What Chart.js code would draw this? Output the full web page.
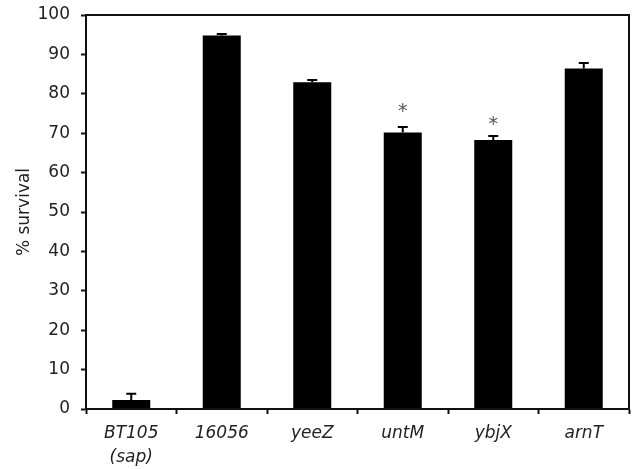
<!DOCTYPE html>
<html>
<head>
<meta charset="utf-8">
<script src="https://cdn.jsdelivr.net/npm/chart.js@4"></script>
<style>
    html, body { margin: 0; padding: 0; background: #fff; }
    #wrap { width: 632px; height: 469px; }
</style>
</head>
<body>
<div id="wrap"><canvas id="survivalChart" width="632" height="469"></canvas></div>
<script>
// Données
const strains = [["BT105", "(sap)"], "16056", "yeeZ", "untM", "ybjX", "arnT"];
const survival = [2.3, 94.8, 82.9, 70.2, 68.3, 86.4];
const errors = [1.6, 0.4, 0.6, 1.4, 1.0, 1.4];
const stars = [null, null, null, 76.5, 73.0, null];
const yTicks = [0, 10, 20, 30, 40, 50, 60, 70, 80, 90, 100];

const fontFamily = "'DejaVu Sans', Verdana, sans-serif";

// Barres d'erreur (moitié haute) et astérisques
const errorBarsPlugin = {
    id: "errorBars",
    afterDatasetsDraw(chart) {
        const { ctx, scales: { x, y } } = chart;
        ctx.save();
        ctx.strokeStyle = "#000";
        ctx.lineWidth = 2;
        survival.forEach((v, i) => {
            const cx = x.getPixelForValue(i);
            const top = y.getPixelForValue(v + errors[i]);
            const base = y.getPixelForValue(v);
            ctx.beginPath();
            ctx.moveTo(cx, base);
            ctx.lineTo(cx, top);
            ctx.moveTo(cx - 5, top);
            ctx.lineTo(cx + 5, top);
            ctx.stroke();
            if (stars[i] !== null) {
                ctx.fillStyle = "#555";
                ctx.font = "19px " + fontFamily;
                ctx.textAlign = "center";
                ctx.textBaseline = "middle";
                ctx.fillText("*", cx, y.getPixelForValue(stars[i]) + 4);
            }
        });
        ctx.restore();
    },
};

// Cadre autour de la zone de tracé
const framePlugin = {
    id: "frame",
    afterDraw(chart) {
        const { ctx, chartArea: a } = chart;
        ctx.save();
        ctx.strokeStyle = "#111";
        ctx.lineWidth = 2;
        ctx.strokeRect(a.left, a.top, a.right - a.left, a.bottom - a.top);
        ctx.restore();
    },
};

new Chart(document.getElementById("survivalChart").getContext("2d"), {
    type: "bar",
    data: {
        labels: strains,
        datasets: [
            {
                label: "% survival",
                data: survival,
                backgroundColor: "#000",
                borderWidth: 0,
                categoryPercentage: 1.0,
                barPercentage: 0.42,
            },
        ],
    },
    options: {
        responsive: false,
        animation: false,
        devicePixelRatio: 1,
        layout: { padding: { top: 15, right: 3, left: 14, bottom: 0 } },
        plugins: {
            legend: { display: false },
            tooltip: { enabled: false },
        },
        scales: {
            x: {
                offset: true,
                afterFit(scale) { scale.height = 60; },
                grid: {
                    offset: true,
                    drawOnChartArea: false,
                    drawTicks: true,
                    tickLength: 5,
                    tickWidth: 2,
                    color: "#111",
                },
                border: { display: true, color: "#111", width: 2 },
                ticks: {
                    color: "#222",
                    padding: 7,
                    maxRotation: 0,
                    autoSkip: false,
                    font: { family: fontFamily, size: 17, style: "italic", lineHeight: 1.45 },
                },
            },
            y: {
                min: 0,
                max: 100,
                afterFit(scale) {
                    scale.width = 72;
                    scale.paddingTop = 0;
                    scale.paddingBottom = 0;
                },
                afterBuildTicks(scale) { scale.ticks = yTicks.map(v => ({ value: v })); },
                grid: {
                    drawOnChartArea: false,
                    drawTicks: true,
                    tickLength: 5,
                    tickWidth: 2,
                    color: "#111",
                },
                border: { display: true, color: "#111", width: 2 },
                ticks: {
                    color: "#222",
                    padding: 11,
                    font: { family: fontFamily, size: 17 },
                },
                title: {
                    display: true,
                    text: "% survival",
                    color: "#222",
                    padding: { top: 0, bottom: 4 },
                    font: { family: fontFamily, size: 17 },
                },
            },
        },
    },
    plugins: [errorBarsPlugin, framePlugin],
});
</script>
</body>
</html>
